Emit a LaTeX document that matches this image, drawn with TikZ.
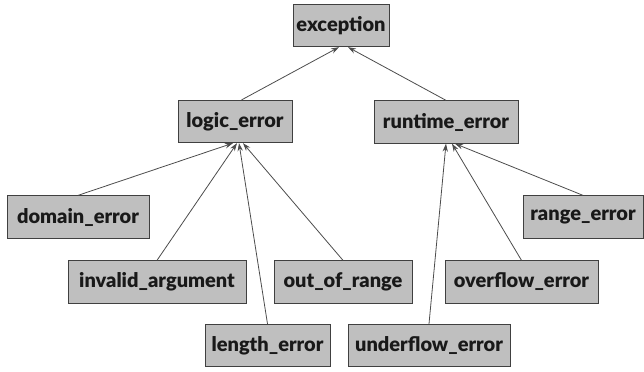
\documentclass[tikz,border=0pt]{standalone}
\usepackage{fontspec}
\setmainfont{Lato}[BoldFont={Lato Black}]
\usetikzlibrary{arrows.meta}
\tikzset{
  cls/.style={draw=black!75, line width=0.6pt, fill=black!25, inner sep=0pt,
    minimum width=#1*0.75pt, minimum height=31.875pt,
    font=\fontsize{15}{17}\selectfont\bfseries, text=black!90},
  arr/.style={draw=black!70, line width=0.6pt, -{Stealth[length=6pt,width=4pt]}}
}
\begin{document}
\begin{tikzpicture}[x=0.75pt,y=-0.75pt]
\useasboundingbox (0,0) rectangle (644,372);
\node[cls=96]  (exc)       at (341,25.5)  {exception};
\node[cls=114] (logic)     at (235,121.5) {logic\_error};
\node[cls=144] (runtime)   at (446,122)   {runtime\_error};
\node[cls=142] (domain)    at (78,217)    {domain\_error};
\node[cls=120] (range)     at (583,217)   {range\_error};
\node[cls=178] (invalid)   at (157,282)   {invalid\_argument};
\node[cls=138] (outrange)  at (343,282)   {out\_of\_range};
\node[cls=153] (overflow)  at (521.5,282) {overflow\_error};
\node[cls=125] (length)    at (267.5,345.5) {length\_error};
\node[cls=162] (underflow) at (429,345.5) {underflow\_error};
\draw[arr] ([xshift=5pt]logic.north) -- ([xshift=-1.5pt]exc.south);
\draw[arr] (runtime.north) -- ([xshift=5.25pt]exc.south);
\draw[arr] (domain.north) -- ([xshift=-1.5pt]logic.south);
\draw[arr] (invalid.north) -- ([xshift=1.5pt]logic.south);
\draw[arr] (length.north) -- ([xshift=3pt]logic.south);
\draw[arr] (outrange.north) -- ([xshift=6pt]logic.south);
\draw[arr] (underflow.north) -- (runtime.south);
\draw[arr] (overflow.north) -- ([xshift=4.5pt]runtime.south);
\draw[arr] (range.north) -- ([xshift=6.75pt]runtime.south);
\end{tikzpicture}
\end{document}
